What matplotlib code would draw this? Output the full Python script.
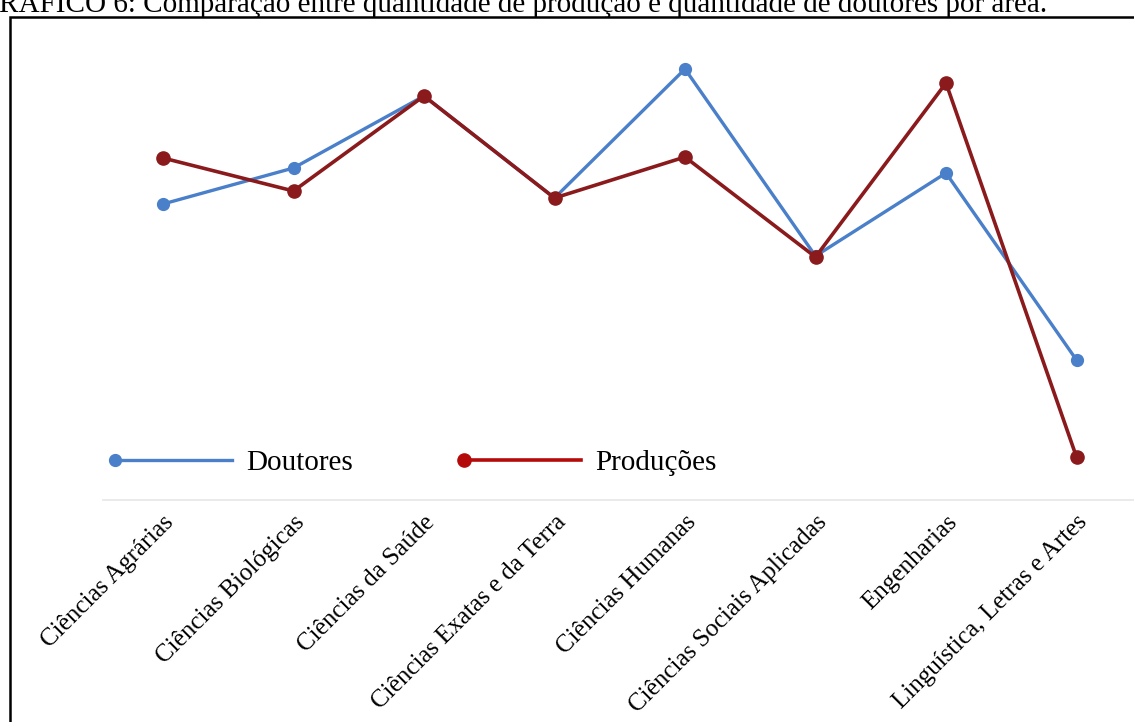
import matplotlib.pyplot as plt
import numpy as np
from matplotlib.patches import Rectangle

areas = [
    "Ciências Agrárias",
    "Ciências Biológicas",
    "Ciências da Saúde",
    "Ciências Exatas e da Terra",
    "Ciências Humanas",
    "Ciências Sociais Aplicadas",
    "Engenharias",
    "Linguística, Letras e Artes",
]
doutores = [296, 332, 404, 302, 431, 244, 327, 140]
producoes = [342, 309, 404, 302, 343, 243, 417, 43]

titulo = ("GRÁFICO 6: Comparação entre quantidade de produção e "
          "quantidade de doutores por área.")

BLUE = "#4a7fc9"
RED = "#8a1a1c"
SERIF = "Liberation Serif"

plt.rcParams["font.family"] = SERIF

fig = plt.figure(figsize=(11.34, 7.22), dpi=100)
ax = fig.add_axes([103 / 1134, 1 - 500 / 722, 1 - 103 / 1134, 478 / 722])

x = np.arange(len(areas))
ax.plot(x, doutores, color=BLUE, lw=2.4, marker="o", ms=8.5, label="Doutores")
ax.plot(x, producoes, color=RED, lw=2.6, marker="o", ms=9.5, label="Produções")

ax.set_xlim(-60 / 130.5, 971 / 130.5)
ax.set_ylim(0, 478)
ax.set_yticks([])
for s in ["top", "right", "left"]:
    ax.spines[s].set_visible(False)
ax.spines["bottom"].set_color("#e6e6e6")
ax.spines["bottom"].set_linewidth(1.2)

ax.set_xticks(x)
ax.set_xticklabels(areas, rotation=45, ha="right", va="top",
                   rotation_mode="anchor", fontsize=18)
ax.tick_params(axis="x", length=0, pad=8)

leg = ax.legend(
    loc="center left", bbox_to_anchor=(12 / 1031, 37 / 478), ncol=2,
    frameon=False, fontsize=21, handlelength=4.0, handletextpad=0.5,
    columnspacing=3.8, borderaxespad=0, borderpad=0, numpoints=1,
)
# marker at the left end of each legend line
for h in leg.legend_handles:
    h.set_markevery([0])
leg.legend_handles[1].set_color("#b50a0a")

# border of the page and the cut-off caption
fig.patches.append(Rectangle((10 / 1134, -0.02), 1.1, 1 - 17 / 722 + 0.02,
                             transform=fig.transFigure, fill=False,
                             edgecolor="black", lw=1.8, clip_on=False))
fig.text(-22 / 1134, 1 - 12 / 722, titulo, fontsize=21, va="baseline",
         ha="left", family=SERIF)

fig.savefig("out.png", dpi=100)
